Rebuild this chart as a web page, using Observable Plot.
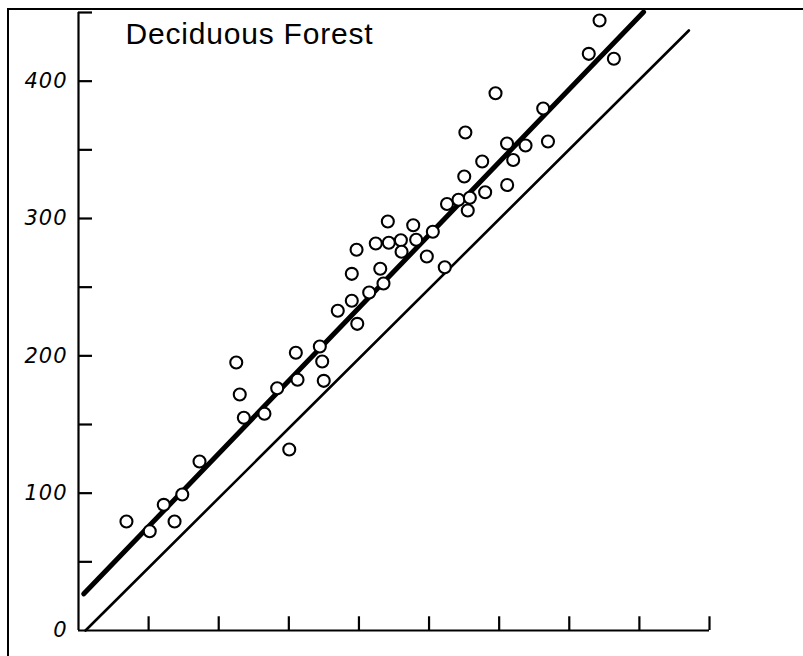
<!DOCTYPE html>
<html><head><meta charset="utf-8">
<script src="https://cdn.jsdelivr.net/npm/d3@7"></script>
<script src="https://cdn.jsdelivr.net/npm/@observablehq/plot@0.6"></script>
<style>
html,body{margin:0;padding:0;background:#fff;}
#wrap{position:relative;width:803px;height:656px;overflow:hidden;background:#fff;}
#frame{position:absolute;left:7px;top:8px;right:-10px;bottom:-10px;border-top:2px solid #000;border-left:2px solid #000;pointer-events:none;}
#wrap svg g[aria-label="y-axis tick label"] text{font-size:21px !important;font-style:italic;font-family:"DejaVu Sans",sans-serif;letter-spacing:1px;}
#wrap svg g.title-text text{font-size:30px;font-family:"Liberation Sans",Arial,sans-serif;letter-spacing:0.8px;}
</style></head><body>
<div id="wrap"><div id="frame"></div></div>
<script>
const title = "Deciduous Forest";
const xTicks = [50, 100, 150, 200, 250, 300, 350, 400, 450];
const yTicks = [50, 100, 150, 200, 250, 300, 350, 400, 450];
const yLabels = [0, 100, 200, 300, 400];

const obsX = [34.2, 50.8, 60.8, 68.5, 74.0, 86.3, 112.5, 115.0, 117.9, 132.6,
  141.7, 150.3, 155.0, 156.2, 172.1, 173.8, 174.9, 184.9, 194.9, 194.9,
  198.3, 198.8, 207.3, 212.0, 215.2, 217.5, 220.6, 221.3, 229.9, 230.4,
  238.7, 240.8, 248.4, 252.7, 261.2, 262.8, 271.0, 275.1, 275.9, 277.6,
  279.1, 287.9, 290.0, 297.4, 305.6, 305.7, 310.0, 318.8, 331.4, 334.8,
  363.9, 371.6, 381.8];
const obsY = [79.4, 72.3, 91.5, 79.4, 99.0, 123.1, 195.1, 171.8, 154.9, 157.8,
  176.4, 131.8, 202.2, 182.6, 206.8, 195.9, 181.8, 232.8, 240.1, 259.7,
  277.2, 223.3, 246.1, 281.8, 263.4, 252.7, 297.8, 282.3, 284.2, 275.8,
  295.1, 284.5, 272.3, 290.3, 264.5, 310.6, 313.6, 330.6, 362.6, 305.8,
  315.1, 341.5, 319.1, 391.2, 354.6, 324.4, 342.6, 353.2, 380.1, 356.1,
  419.9, 444.2, 416.3];

const fitX = [3.8, 403.0];
const fitY = [26.7, 450.4];
const refX = [5.0, 435.3];
const refY = [0.0, 436.9];

const points = obsX.map((x, i) => ({x, y: obsY[i]}));
const fitLine = fitX.map((x, i) => ({x, y: fitY[i]}));
const refLine = refX.map((x, i) => ({x, y: refY[i]}));

const chart = Plot.plot({
  width: 803,
  height: 656,
  marginLeft: 78,
  marginRight: 94,
  marginTop: 12,
  marginBottom: 26,
  style: {background: "transparent", color: "#000", overflow: "visible"},
  x: {domain: [0, 450], axis: null},
  y: {domain: [0, 450], axis: null},
  marks: [
    Plot.ruleX([0], {y1: 0, y2: 450, stroke: "#000", strokeWidth: 2.2}),
    Plot.ruleY([0], {x1: 0, x2: 450, stroke: "#000", strokeWidth: 2.2}),
    Plot.ruleY(yTicks, {x1: 0, x2: 10, stroke: "#000", strokeWidth: 2.2}),
    Plot.ruleX(xTicks, {y1: 0, y2: 10, stroke: "#000", strokeWidth: 2.2}),
    Plot.axisY(yLabels, {anchor: "left", tickSize: 0, tickPadding: 11, fontSize: 21,
      fontStyle: "italic", fontFamily: "DejaVu Sans, sans-serif", fill: "#000",
      tickFormat: d => String(d), label: null}),
    Plot.line(refLine, {x: "x", y: "y", stroke: "#000", strokeWidth: 2.6}),
    Plot.line(fitLine, {x: "x", y: "y", stroke: "#000", strokeWidth: 5}),
    Plot.dot(points, {x: "x", y: "y", r: 6, fill: "#fff", stroke: "#000", strokeWidth: 2.1}),
    Plot.text([title], {text: d => d, frameAnchor: "top-left", textAnchor: "start",
      lineAnchor: "top", dx: 47, dy: 10, fontSize: 30, fill: "#000",
      className: "title-text",
      fontFamily: "Liberation Sans, Arial, sans-serif"})
  ]
});
document.getElementById("wrap").prepend(chart);
</script>
</body></html>
